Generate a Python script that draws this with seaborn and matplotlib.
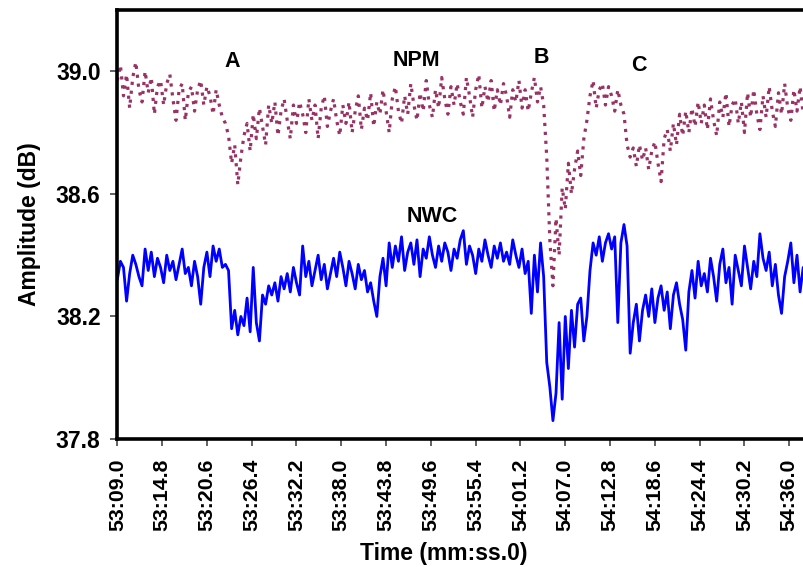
import matplotlib
matplotlib.use("Agg")
import matplotlib.pyplot as plt
import numpy as np
import pandas as pd
import seaborn as sns

# samples every 0.4 s starting at 53:09.0
step_s = 0.4

nwc_db = [
    38.32, 38.38, 38.36, 38.25, 38.34, 38.40, 38.37, 38.33, 38.30, 38.42,
    38.35, 38.41, 38.33, 38.39, 38.36, 38.31, 38.40, 38.35, 38.38, 38.32,
    38.37, 38.42, 38.34, 38.36, 38.30, 38.38, 38.33, 38.24, 38.36, 38.41,
    38.33, 38.43, 38.38, 38.42, 38.36, 38.37, 38.35, 38.16, 38.22, 38.14,
    38.20, 38.17, 38.26, 38.15, 38.36, 38.18, 38.12, 38.27, 38.24, 38.30,
    38.27, 38.31, 38.25, 38.33, 38.29, 38.34, 38.28, 38.36, 38.31, 38.27,
    38.43, 38.33, 38.38, 38.30, 38.35, 38.40, 38.32, 38.37, 38.29, 38.34,
    38.39, 38.33, 38.41, 38.36, 38.30, 38.38, 38.34, 38.29, 38.37, 38.32,
    38.35, 38.28, 38.31, 38.25, 38.20, 38.33, 38.39, 38.30, 38.44, 38.36,
    38.43, 38.38, 38.46, 38.35, 38.41, 38.44, 38.37, 38.45, 38.33, 38.42,
    38.39, 38.46, 38.40, 38.36, 38.43, 38.38, 38.44, 38.41, 38.35, 38.42,
    38.39, 38.45, 38.48, 38.37, 38.43, 38.40, 38.34, 38.42, 38.38, 38.45,
    38.40, 38.36, 38.43, 38.39, 38.44, 38.38, 38.41, 38.37, 38.45, 38.40,
    38.36, 38.42, 38.34, 38.38, 38.21, 38.40, 38.28, 38.44, 38.33, 38.05,
    37.97, 37.86, 37.95, 38.18, 37.93, 38.20, 38.03, 38.22, 38.10, 38.24,
    38.26, 38.12, 38.20, 38.35, 38.44, 38.40, 38.46, 38.38, 38.44, 38.47,
    38.42, 38.46, 38.18, 38.44, 38.50, 38.43, 38.08, 38.18, 38.24, 38.12,
    38.22, 38.27, 38.20, 38.29, 38.18, 38.26, 38.30, 38.22, 38.28, 38.16,
    38.27, 38.31, 38.24, 38.19, 38.09, 38.28, 38.35, 38.26, 38.38, 38.30,
    38.34, 38.28, 38.39, 38.33, 38.25, 38.37, 38.42, 38.31, 38.36, 38.24,
    38.40, 38.35, 38.30, 38.43, 38.36, 38.29, 38.38, 38.33, 38.47, 38.39,
    38.35, 38.41, 38.30, 38.37, 38.27, 38.21, 38.33, 38.38, 38.44, 38.31,
    38.40, 38.28, 38.36,
]

npm_db = [
    38.97, 39.02, 38.92, 38.99, 38.88, 38.98, 39.03, 38.94, 38.90, 39.00,
    38.93, 38.98, 38.86, 38.95, 38.97, 38.89, 38.96, 38.99, 38.91, 38.84,
    38.94, 38.96, 38.84, 38.93, 38.95, 38.87, 38.94, 38.97, 38.89, 38.95,
    38.92, 38.86, 38.94, 38.89, 38.85, 38.83, 38.79, 38.70, 38.76, 38.63,
    38.72, 38.79, 38.83, 38.74, 38.86, 38.78, 38.88, 38.82, 38.76, 38.89,
    38.83, 38.90, 38.79, 38.87, 38.91, 38.84, 38.78, 38.89, 38.83, 38.90,
    38.86, 38.80, 38.91, 38.84, 38.89, 38.78, 38.88, 38.92, 38.82, 38.87,
    38.91, 38.84, 38.79, 38.89, 38.83, 38.90, 38.80, 38.87, 38.92, 38.81,
    38.88, 38.84, 38.93, 38.82, 38.90, 38.86, 38.94, 38.87, 38.80, 38.91,
    38.95, 38.87, 38.83, 38.92, 38.86, 38.96, 38.89, 38.84, 38.93, 38.87,
    38.97, 38.89, 38.85, 38.94, 38.88, 38.98, 38.91, 38.86, 38.95, 38.89,
    38.96, 38.90, 38.86, 38.98, 38.92, 38.85, 38.94, 38.99, 38.88, 38.95,
    38.90, 38.97, 38.87, 38.94, 38.89, 38.96, 38.92, 38.85, 38.94, 38.90,
    38.97, 38.88, 38.94, 38.87, 38.93, 38.98, 38.90, 38.95, 38.89, 38.72,
    38.45, 38.30, 38.52, 38.40, 38.62, 38.55, 38.70, 38.60, 38.68, 38.74,
    38.66, 38.78, 38.84, 38.92, 38.97, 38.88, 38.94, 38.96, 38.89, 38.95,
    38.92, 38.87, 38.94, 38.89, 38.86, 38.76, 38.72, 38.75, 38.69, 38.76,
    38.71, 38.75, 38.68, 38.74, 38.77, 38.70, 38.64, 38.78, 38.81, 38.74,
    38.83, 38.76, 38.86, 38.79, 38.87, 38.80, 38.88, 38.82, 38.90, 38.83,
    38.89, 38.81, 38.91, 38.84, 38.79, 38.90, 38.85, 38.93, 38.82, 38.89,
    38.91, 38.83, 38.90, 38.80, 38.93, 38.85, 38.94, 38.86, 38.81, 38.92,
    38.85, 38.95, 38.87, 38.82, 38.93, 38.86, 38.96, 38.88, 38.84, 38.94,
    38.87, 38.95, 38.86,
]

tick_labels = ["53:09.0", "53:14.8", "53:20.6", "53:26.4", "53:32.2", "53:38.0",
               "53:43.8", "53:49.6", "53:55.4", "54:01.2", "54:07.0", "54:12.8",
               "54:18.6", "54:24.4", "54:30.2", "54:36.0"]
tick_secs = [0.0, 5.8, 11.6, 17.4, 23.2, 29.0, 34.8, 40.6, 46.4, 52.2,
             58.0, 63.8, 69.6, 75.4, 81.2, 87.0]

# event markers: (label, seconds after 53:09.0, dB)
notes = [("A", 14.86, 39.033), ("NPM", 38.67, 39.036), ("B", 54.85, 39.046),
         ("C", 67.54, 39.02), ("NWC", 40.74, 38.526)]

secs = np.arange(len(nwc_db)) * step_s
df = pd.DataFrame({"t": secs, "NWC": nwc_db, "NPM": npm_db})

sns.set_style("ticks")
plt.rcParams["font.family"] = ["Liberation Sans", "DejaVu Sans"]
plt.rcParams["font.weight"] = "bold"
plt.rcParams["text.color"] = "black"
plt.rcParams["axes.labelcolor"] = "black"

fig = plt.figure(figsize=(8.04, 5.67), dpi=100)
ax = fig.add_axes([0.1459, 0.2257, 0.8598, 0.7566])

sns.lineplot(data=df, x="t", y="NPM", ax=ax, color="#993366", linewidth=2.3,
             linestyle=(0, (1.0, 1.8)))
sns.lineplot(data=df, x="t", y="NWC", ax=ax, color="#0000FF", linewidth=2.0)

ax.set_xlim(0, 89.5)
ax.set_ylim(37.8, 39.2)
ax.set_yticks([37.8, 38.2, 38.6, 39.0])
ax.set_yticklabels(["37.8", "38.2", "38.6", "39.0"])
ax.set_xticks(tick_secs)
ax.set_xticklabels(tick_labels, rotation=90)

for lab in ax.get_yticklabels():
    lab.set_fontweight("bold")
    lab.set_fontsize(16.5)
for lab in ax.get_xticklabels():
    lab.set_fontweight("bold")
    lab.set_fontsize(15.3)
ax.tick_params(axis="y", direction="out", length=5, width=1.3,
               color="#555555", labelcolor="black", pad=7)
ax.tick_params(axis="x", direction="out", length=5, width=1.3,
               color="#555555", labelcolor="black", pad=9)

for side in ["left", "top", "bottom"]:
    ax.spines[side].set_linewidth(2.6)
    ax.spines[side].set_color("black")
ax.spines["right"].set_visible(False)

ax.set_ylabel("Amplitude (dB)", fontsize=16.5, fontweight="bold", color="black")
ax.yaxis.set_label_coords(-0.111, 0.5)
ax.set_xlabel("")
fig.text(0.552, 0.004, "Time (mm:ss.0)", fontsize=16.5, fontweight="bold",
         color="black", ha="center", va="bottom")

for text, tx, ty in notes:
    ax.text(tx, ty, text, fontsize=15.5, fontweight="bold", color="black",
            ha="center", va="center")

fig.savefig("out.png", dpi=100)
